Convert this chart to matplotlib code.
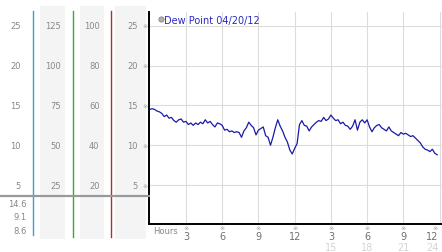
import matplotlib
matplotlib.use("Agg")
import matplotlib.pyplot as plt
import matplotlib.transforms as mtransforms
from matplotlib.patches import Rectangle

W, H = 442, 253

# dew point readings, one every 0.2 hours from 0:00
hours = [i * 0.2 for i in range(120)]
dew_point = [
    14.5, 14.6, 14.5, 14.3, 14.2, 14.0, 13.6, 13.8, 13.4, 13.5,
    13.1, 12.9, 13.2, 13.3, 12.9, 13.0, 12.6, 12.8, 12.5, 12.8,
    12.6, 12.9, 12.7, 13.2, 12.8, 13.0, 12.6, 12.3, 12.8, 12.7,
    12.5, 11.9, 12.0, 11.7, 11.8, 11.6, 11.7, 11.6, 11.0, 11.8,
    12.2, 12.9, 12.5, 12.2, 11.3, 11.9, 12.1, 12.3, 11.2, 11.0,
    10.0, 11.0, 12.2, 13.2, 12.4, 11.8, 11.0, 10.4, 9.4, 8.9,
    9.6, 10.2, 12.6, 13.1, 12.5, 12.4, 11.8, 12.3, 12.6, 12.9,
    13.1, 13.0, 13.5, 13.1, 13.3, 13.8, 13.4, 13.1, 13.2, 12.7,
    12.9, 12.5, 12.4, 12.0, 12.4, 13.2, 11.9, 12.9, 13.2, 12.8,
    13.2, 12.3, 11.7, 12.2, 12.5, 12.6, 12.2, 12.0, 11.8, 12.3,
    11.8, 11.6, 11.4, 11.2, 11.6, 11.4, 11.5, 11.3, 11.1, 11.2,
    10.9, 10.6, 10.3, 9.8, 9.5, 9.4, 9.2, 9.5, 9.0, 8.8,
]

# left-hand scale columns
col1_labels = [5, 10, 15, 20, 25]
col2_labels = [25, 50, 75, 100, 125]
col3_labels = [20, 40, 60, 80, 100]
col4_labels = [5, 10, 15, 20, 25]
stat_labels = ["14.6", "9.1", "8.6"]

hour_ticks = [3, 6, 9, 12, 15, 18, 21, 24]
hour_labels = ["3", "6", "9", "12", "3", "6", "9", "12"]
hour_labels2 = ["", "", "", "", "15", "18", "21", "24"]

fig = plt.figure(figsize=(W / 100, H / 100), dpi=100)

# main chart
ax = fig.add_axes([149 / W, (H - 225) / H, (W - 149) / W, (225 - 13) / H], zorder=0)
ax.set_xlim(-0.06, 24.2)
ax.set_ylim(0.1, 26.75)
ax.plot(hours, dew_point, color="#1a1aa6", lw=0.9)

for s in ["top", "right"]:
    ax.spines[s].set_visible(False)
for s in ["left", "bottom"]:
    ax.spines[s].set_linewidth(1.4)
    ax.spines[s].set_color("black")

ax.set_yticks(col1_labels)
ax.set_xticks(hour_ticks)
ax.set_yticklabels([])
ax.set_xticklabels([])
ax.tick_params(length=0)
ax.grid(True, color="#dcdcdc", lw=0.8)
ax.set_axisbelow(True)

# pixel-coordinate overlay layer
bg = fig.add_axes([0, 0, 1, 1], zorder=1)
bg.set_xlim(0, W)
bg.set_ylim(H, 0)
bg.axis("off")
bg.patch.set_visible(False)

gray_txt = "#888888"
mark_font = ["DejaVu Sans", "Noto Sans CJK SC"]
ytr = mtransforms.blended_transform_factory(bg.transData, ax.transData)
xtr = mtransforms.blended_transform_factory(ax.transData, bg.transData)

# shaded columns and colored separators
for x0, w in [(40, 25), (80, 24), (115, 31)]:
    bg.add_patch(Rectangle((x0, 7), w, 233, color="#f4f4f4", lw=0, zorder=0))
bg.plot([33, 33], [12, 236], color="#3aa0d0", lw=1)
bg.plot([72.7, 72.7], [12, 238], color="#33aa33", lw=1)
bg.plot([111.3, 111.3], [12, 238], color="#b03030", lw=1)
bg.plot([0, 149], [197.3, 197.3], color="#999999", lw=1.6)

for i, v in enumerate(col1_labels):
    bg.text(20.5, v, str(v), transform=ytr, ha="right", va="center", fontsize=6, color=gray_txt)
    bg.text(60.5, v, str(col2_labels[i]), transform=ytr, ha="right", va="center", fontsize=6, color=gray_txt)
    bg.text(99.5, v, str(col3_labels[i]), transform=ytr, ha="right", va="center", fontsize=6, color=gray_txt)
    bg.text(137.5, v, str(col4_labels[i]), transform=ytr, ha="right", va="center", fontsize=6, color=gray_txt)
    bg.text(145.3, v, "\u203b", transform=ytr, ha="center", va="center", fontsize=4.5,
            color="#a0a0a0", family=mark_font)

for y, s in zip([204.3, 218, 232], stat_labels):
    bg.text(27, y, s, ha="right", va="center", fontsize=6, color=gray_txt)

# legend
bg.plot([161], [20], "o", ms=3.8, mfc="#b0b0b0", mec="#8a8a8a", mew=0.6)
bg.text(164.5, 20.5, "Dew Point 04/20/12", ha="left", va="center", fontsize=7, color="#2a2ac0")

# hour axis labels
bg.text(153, 232, "Hours", ha="left", va="center", fontsize=6, color=gray_txt)
for i, h in enumerate(hour_ticks):
    last = h == 24
    xo = -0.1 if last else 0
    bg.text(h + xo - (0.25 if last else 0), 228.5, "\u203b", transform=xtr, ha="center", va="center",
            fontsize=4.5, color="#a0a0a0", family=mark_font)
    bg.text(h + xo, 237, hour_labels[i], transform=xtr, ha="right" if last else "center",
            va="center", fontsize=7, color="#707070")
    if hour_labels2[i]:
        bg.text(h + xo, 248.5, hour_labels2[i], transform=xtr, ha="right" if last else "center",
                va="center", fontsize=7, color="#d4d4d4")

fig.savefig("out.png", dpi=100)
